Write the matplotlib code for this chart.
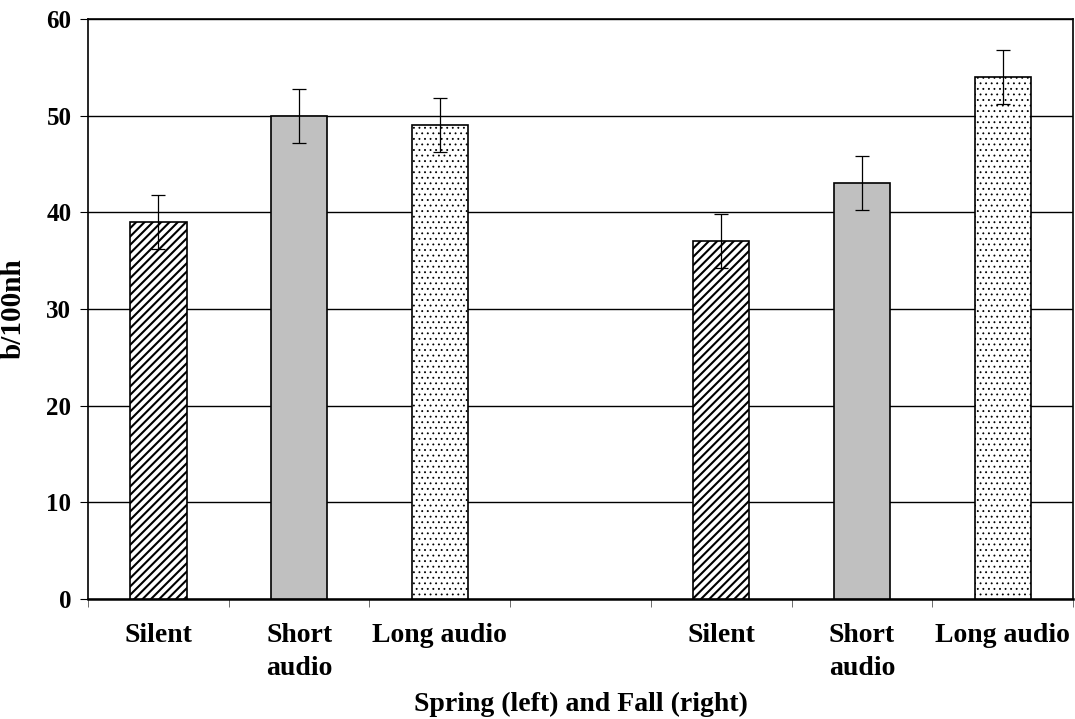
import matplotlib
matplotlib.use("Agg")
import matplotlib.pyplot as plt
import numpy as np

plt.rcParams['font.family'] = ['Liberation Serif', 'DejaVu Serif']
plt.rcParams['font.weight'] = 'bold'

labels = ['Silent', 'Short\naudio', 'Long audio', '', 'Silent', 'Short\naudio', 'Long audio']
values = [39, 50, 49, None, 37, 43, 54]
errors = [2.8, 2.8, 2.8, None, 2.8, 2.8, 2.8]
kinds = ['silent', 'short', 'long', None, 'silent', 'short', 'long']

styles = {
    'silent': dict(color='white', hatch='////', hlw=1.5),
    'short': dict(color='#c0c0c0', hatch=None, hlw=1.0),
    'long': dict(color='white', hatch='...', hlw=0.6),
}

fig = plt.figure(figsize=(10.75, 7.19), dpi=100)
ax = fig.add_axes([0.0819, 0.167, 0.9163, 0.8066])

for i, (v, e, k) in enumerate(zip(values, errors, kinds)):
    if v is None:
        continue
    st = styles[k]
    with plt.rc_context({'hatch.linewidth': st['hlw']}):
        ax.bar(i, v, width=0.4, color=st['color'], hatch=st['hatch'],
               edgecolor='black', linewidth=1.2, zorder=3)
    ax.errorbar(i, v, yerr=e, fmt='none', ecolor='black', elinewidth=0.9,
                capsize=5, capthick=0.9, zorder=4)

ax.set_xlim(-0.5, 6.5)
ax.set_ylim(0, 60)
ax.set_yticks(range(0, 61, 10))
ax.yaxis.grid(True, color='black', linewidth=1.0, zorder=0)
ax.set_axisbelow(True)

ax.set_xticks(range(7))
ax.set_xticklabels(labels, fontsize=20, fontweight='bold', va='top', linespacing=1.45)
ax.set_xticks(np.arange(-0.5, 7, 1), minor=True)
ax.tick_params(axis='x', which='major', length=0, pad=17)
ax.tick_params(axis='x', which='minor', length=6, direction='out', color='#555555')
ax.tick_params(axis='y', length=6, direction='out', labelsize=18, pad=6)
for t in ax.get_yticklabels():
    t.set_fontweight('bold')

for s in ax.spines.values():
    s.set_linewidth(1.2)
ax.spines['bottom'].set_linewidth(1.8)

ax.set_ylabel('b/100nh', fontsize=21, fontweight='bold', labelpad=14)
ax.set_xlabel('Spring (left) and Fall (right)', fontsize=20, fontweight='bold', labelpad=8)

fig.savefig('out.png', dpi=100)
